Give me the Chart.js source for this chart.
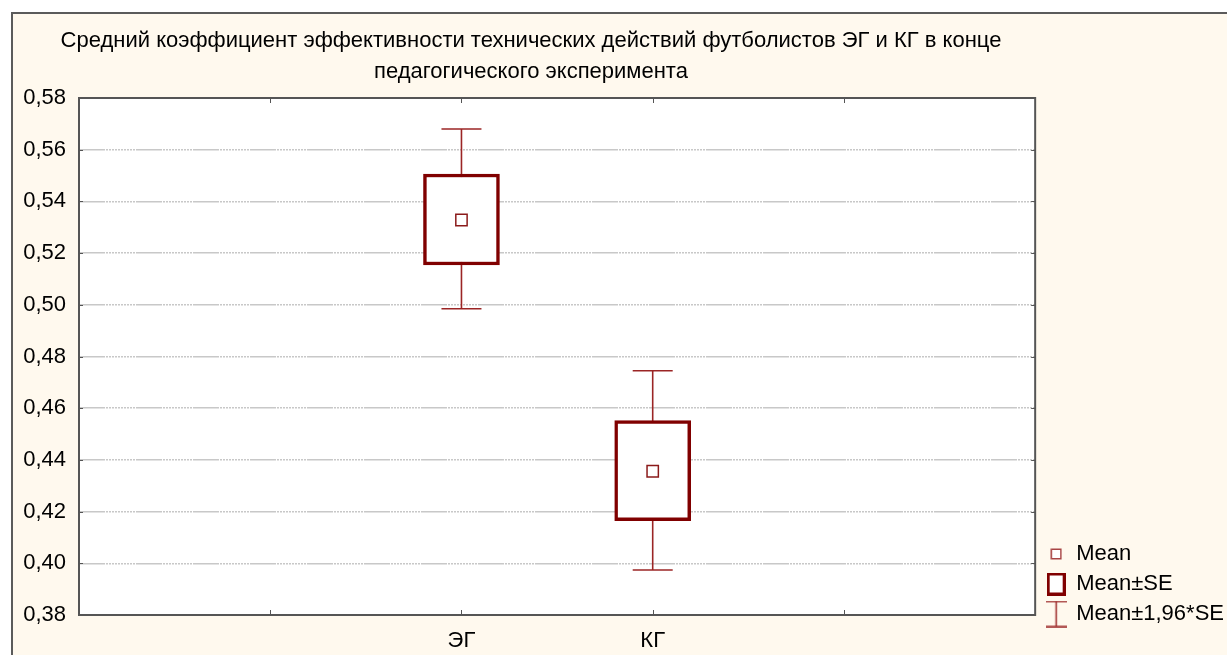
<!DOCTYPE html>
<html><head><meta charset="utf-8">
<script src="https://cdn.jsdelivr.net/npm/chart.js@4.4.1/dist/chart.umd.min.js"></script>
<style>
html,body{margin:0;padding:0;background:#fff;}
#frame{position:absolute;left:11px;top:12px;width:1216px;height:643px;box-sizing:border-box;border-left:2px solid #5b5b5b;border-top:2px solid #5b5b5b;background:#fff9ee;}
#wrap{position:absolute;left:0;top:0;width:1227px;height:655px;}
</style></head><body>
<div id="frame"></div>
<div id="wrap"><canvas id="c" width="1227" height="655"></canvas></div>
<script>
// ---- data ----
const titleLines = ['Средний коэффициент эффективности технических действий футболистов ЭГ и КГ в конце', 'педагогического эксперимента'];
const categories = ['ЭГ', 'КГ'];
const means   = [0.5328, 0.4356];
const seLower = [0.5154, 0.4165];
const seUpper = [0.5506, 0.4552];
const ciLower = [0.4985, 0.3974];
const ciUpper = [0.5680, 0.4745];
const yMin = 0.38, yMax = 0.58, yStep = 0.02;
const legendLabels = ['Mean', 'Mean±SE', 'Mean±1,96*SE'];

// category slots on the x axis (0..5, groups at 2 and 3)
const xMin = 0, xMax = 5, firstSlot = 2;
const xOf = i => i + firstSlot;

const FONT = "'Liberation Sans', Arial, sans-serif";
Chart.defaults.font.family = FONT;
Chart.defaults.font.size = 22;
Chart.defaults.color = '#000';

const BOX = '#800000', WHISK = '#9b2525', MEANC = '#8b1a1a';

function icon(w, h, draw) { const c = document.createElement('canvas'); c.width = w; c.height = h; draw(c.getContext('2d')); return c; }
const iconMean = icon(12, 12, g => { g.fillStyle = '#fff'; g.fillRect(1,1,10,10); g.strokeStyle = '#a84444'; g.lineWidth = 1.5; g.strokeRect(1.25,1.25,9.5,9.5); });
const iconSE = icon(19, 23, g => { g.fillStyle = '#fff'; g.fillRect(1,1,17,21); g.strokeStyle = BOX; g.lineWidth = 3; g.strokeRect(1.5,1.5,16,20); });
const iconCI = icon(21, 27, g => { g.strokeStyle = WHISK; g.lineWidth = 1.5; g.beginPath(); g.moveTo(10.5,1); g.lineTo(10.5,26); g.moveTo(0,1); g.lineTo(21,1); g.moveTo(0,26); g.lineTo(21,26); g.stroke(); });
const legendIcons = [iconMean, iconSE, iconCI];

const gridDash = [26, 1, 2, 1, 2, 1, 2, 1, 2, 1, 2, 1, 2, 1, 2, 1, 2, 1, 2, 1, 2, 1];

const framePlugin = {
  id: 'frame',
  beforeDraw(chart) {
    const {ctx, chartArea: a} = chart;
    ctx.save(); ctx.fillStyle = '#fff'; ctx.fillRect(a.left, a.top, a.right - a.left, a.bottom - a.top); ctx.restore();
  },
  afterLayout(chart) {
    // nudge the legend block to where the reference has it
    const L = chart.legend;
    L.top -= 22; L.bottom -= 22;
    L.left += 4; L.right += 4;
  },
  afterDraw(chart) {
    const {ctx, chartArea: a, scales: {x, y}} = chart;
    ctx.save();
    ctx.strokeStyle = '#555'; ctx.lineWidth = 1;
    ctx.beginPath();
    y.ticks.forEach(t => { const p = Math.round(y.getPixelForValue(t.value)) + 0.5; ctx.moveTo(a.left, p); ctx.lineTo(a.left + 4, p); ctx.moveTo(a.right, p); ctx.lineTo(a.right - 4, p); });
    x.ticks.forEach(t => { const p = Math.round(x.getPixelForValue(t.value)) + 0.5; ctx.moveTo(p, a.bottom); ctx.lineTo(p, a.bottom - 5); ctx.moveTo(p, a.top); ctx.lineTo(p, a.top + 5); });
    ctx.stroke();
    ctx.strokeStyle = '#555'; ctx.lineWidth = 2;
    ctx.strokeRect(a.left, a.top, a.right - a.left, a.bottom - a.top);
    // title
    ctx.fillStyle = '#000'; ctx.font = '22px ' + FONT; ctx.textAlign = 'center'; ctx.textBaseline = 'alphabetic';
    ctx.fillText(titleLines[0], 531, 47);
    ctx.fillText(titleLines[1], 531, 78);
    ctx.restore();
  }
};

new Chart(document.getElementById('c'), {
  type: 'scatter',
  data: {
    datasets: [
      { label: legendLabels[0], type: 'scatter', order: 0,
        data: means.map((m, i) => ({x: xOf(i), y: m})),
        pointStyle: 'rect', pointRadius: 8, pointHoverRadius: 8,
        borderColor: MEANC, backgroundColor: '#fff', borderWidth: 1.5 },
      { label: legendLabels[1], type: 'bar', order: 1,
        data: means.map((m, i) => ({x: xOf(i), y: [seLower[i], seUpper[i]]})),
        barThickness: 76, borderWidth: 3.5, borderSkipped: false,
        borderColor: BOX, backgroundColor: '#fff' },
      { label: legendLabels[2], type: 'scatter', order: 2, showLine: true, spanGaps: false,
        data: means.flatMap((m, i) => [{x: xOf(i), y: ciLower[i]}, {x: xOf(i), y: ciUpper[i]}, {x: xOf(i), y: null}]),
        pointRadius: 0, borderColor: WHISK, borderWidth: 1.6 },
      { label: 'caps', type: 'scatter', order: 3,
        data: means.flatMap((m, i) => [{x: xOf(i), y: ciLower[i]}, {x: xOf(i), y: ciUpper[i]}]),
        pointStyle: 'line', pointRadius: 20, pointHoverRadius: 20, borderColor: WHISK, borderWidth: 1.6 }
    ]
  },
  options: {
    responsive: false, animation: false,
    layout: { padding: { top: 98, right: -3, left: 0, bottom: 0 } },
    plugins: {
      tooltip: { enabled: false },
      title: { display: false },
      legend: {
        position: 'right', align: 'end',
        labels: {
          usePointStyle: true, pointStyleWidth: 18, padding: 8,
          font: { size: 22 }, color: '#000',
          generateLabels: () => legendLabels.map((t, i) => ({ text: t, pointStyle: legendIcons[i], fillStyle: '#fff', strokeStyle: BOX, lineWidth: 0, hidden: false, datasetIndex: i }))
        }
      }
    },
    scales: {
      x: {
        type: 'linear', min: xMin, max: xMax, offset: false,
        grid: { display: false, drawTicks: false },
        border: { display: false },
        afterFit: s => { s.height = 40; },
        ticks: { stepSize: 1, autoSkip: false, maxRotation: 0, padding: 13,
          callback: v => categories[v - firstSlot] || '' }
      },
      y: {
        min: yMin, max: yMax,
        grid: { color: '#c8c8c8', lineWidth: 1.5, drawTicks: false },
        border: { display: false, dash: gridDash },
        afterFit: s => { s.width = 79; },
        ticks: { stepSize: yStep, padding: 13, callback: v => v.toFixed(2).replace('.', ',') }
      }
    }
  },
  plugins: [framePlugin]
});
</script>
</body></html>
